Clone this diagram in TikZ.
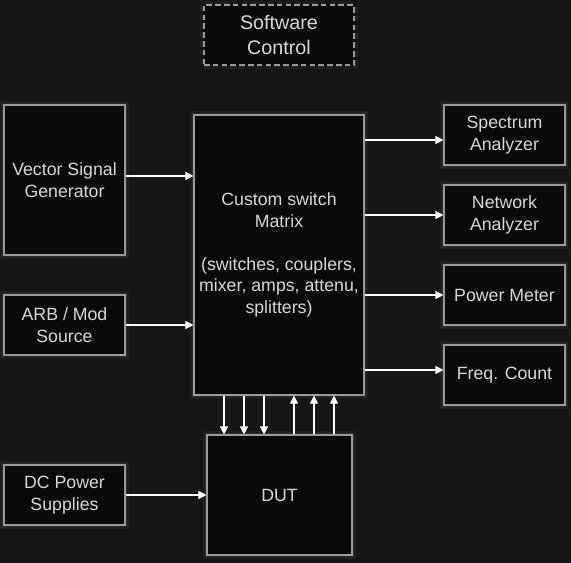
\documentclass[tikz,border=0pt]{standalone}
\usepackage{fontspec}
\setmainfont{Liberation Sans}
\usetikzlibrary{arrows.meta}
\definecolor{bgc}{HTML}{161616}
\definecolor{boxfill}{HTML}{0A0A0A}
\definecolor{boxline}{HTML}{9A9A9A}
\definecolor{txt}{HTML}{D8D8D8}
\tikzset{
  box/.style={draw=boxline, line width=0.85pt, fill=boxfill, text=txt,
    align=center, inner sep=0pt, font=\fontsize{13.3pt}{16.2pt}\selectfont,
    preaction={draw=white, draw opacity=0.04, line width=6pt},
    preaction={draw=white, draw opacity=0.06, line width=3.5pt}},
  dashbox/.style={box, line width=1.4pt, dash pattern=on 4.2pt off 2.4pt,
    font=\fontsize{14.8pt}{18.4pt}\selectfont},
  arr/.style={draw=white, line width=0.8pt, -{Triangle[length=6pt,width=6pt]}}
}
\begin{document}
\begin{tikzpicture}[x=0.75pt,y=-0.75pt]
\fill[bgc] (0,0) rectangle (571,563);
\useasboundingbox (0,0) rectangle (571,563);
\node[dashbox, minimum width=112.5pt, minimum height=45pt] (sw) at (279,35) {Software\\Control};
\node[box, minimum width=90.75pt, minimum height=112.5pt] (vsg) at (64.5,180) {Vector Signal\\Generator};
\node[box, minimum width=90.75pt, minimum height=45pt] (arb) at (64.5,325) {ARB / Mod\\Source};
\node[box, minimum width=90.75pt, minimum height=45pt] (dc) at (64.5,495) {DC Power\\Supplies};
\node[box, minimum width=127.5pt, minimum height=210pt] (mat) at (279,255) {Custom switch\\Matrix\\[16.2pt](switches, couplers,\\mixer, amps, attenu,\\splitters)};
\node[box, minimum width=90.75pt, minimum height=45pt] (spec) at (504.5,135) {Spectrum\\Analyzer};
\node[box, minimum width=90.75pt, minimum height=45pt] (net) at (504.5,215) {Network\\Analyzer};
\node[box, minimum width=90.75pt, minimum height=45pt] (pm) at (504.5,295) {Power Meter};
\node[box, minimum width=90.75pt, minimum height=45pt] (fc) at (504.5,375) {Freq. Count};
\node[box, minimum width=108.75pt, minimum height=90pt] (dut) at (279.5,495) {DUT};
% inputs
\draw[arr] (vsg.east |- 0,176) -- (mat.west |- 0,176);
\draw[arr] (arb.east) -- (mat.west |- arb.east);
\draw[arr] (dc.east) -- (dut.west);
% outputs
\draw[arr] (mat.east |- 0,140) -- (spec.west |- 0,140);
\draw[arr] (mat.east |- net.west) -- (net.west);
\draw[arr] (mat.east |- pm.west) -- (pm.west);
\draw[arr] (mat.east |- 0,370) -- (fc.west |- 0,370);
% matrix <-> DUT
\foreach \x in {224,244,264} \draw[arr] (mat.south -| \x,0) -- (dut.north -| \x,0);
\foreach \x in {294,314,334} \draw[arr] (dut.north -| \x,0) -- (mat.south -| \x,0);
\end{tikzpicture}
\end{document}
